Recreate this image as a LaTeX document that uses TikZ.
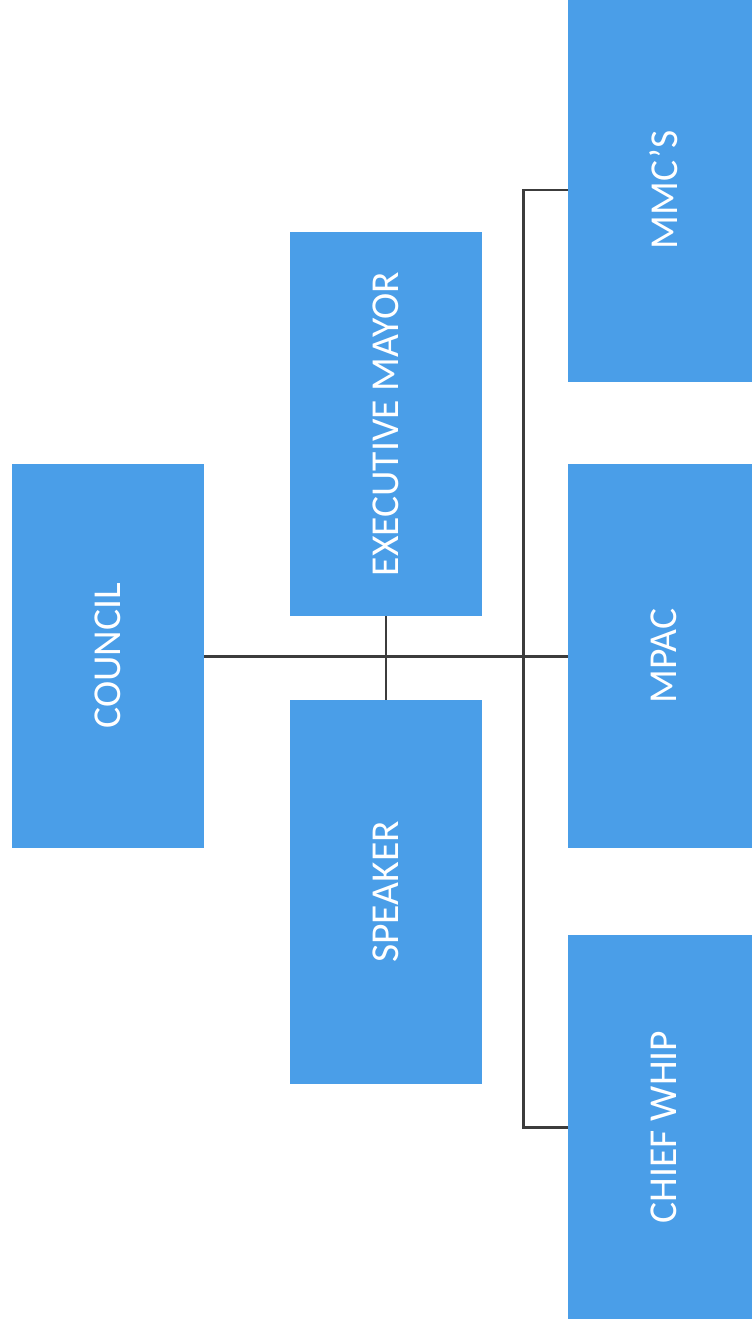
\documentclass[tikz,border=0pt]{standalone}
\usepackage{fontspec}
\setmainfont{Carlito}
\definecolor{boxblue}{RGB}{74,158,232}
\definecolor{linegray}{RGB}{60,60,60}
\begin{document}
\begin{tikzpicture}[
    orgbox/.style={draw=none, fill=boxblue, text=white, minimum width=3.84cm,
      minimum height=7.68cm, inner sep=0pt, font=\fontsize{22.5}{27}\selectfont},
    link/.style={draw=linegray, line width=1.7pt}
  ]
  \clip (0,0) rectangle (15.04,-26.5);
  \fill[white] (0,0) rectangle (15.04,-26.5);

  % ---------- Left column ----------
  \node[orgbox] (council) at (2.16,-13.12) {\rotatebox{90}{COUNCIL}};

  % ---------- Middle column ----------
  \node[orgbox] (mayor) at (7.72,-8.48) {\rotatebox{90}{EXECUTIVE MAYOR}};
  \node[orgbox] (speaker) at (7.72,-17.84) {\rotatebox{90}{SPEAKER}};

  % ---------- Right column ----------
  \node[orgbox] (mmc) at (13.28,-3.8) {\rotatebox{90}{MMC'S}};
  \node[orgbox] (mpac) at (13.28,-13.12) {\rotatebox{90}{MPAC}};
  \node[orgbox] (whip) at (13.28,-22.54) {\rotatebox{90}{CHIEF WHIP}};

  % ---------- Connectors ----------
  \draw[link] (council.east) -- (mpac.west);
  \draw[link] (mayor.south) -- (speaker.north);
  \draw[link] (mmc.west) -- ++(-0.88,0) coordinate (bus) |- (whip.west);
\end{tikzpicture}
\end{document}
